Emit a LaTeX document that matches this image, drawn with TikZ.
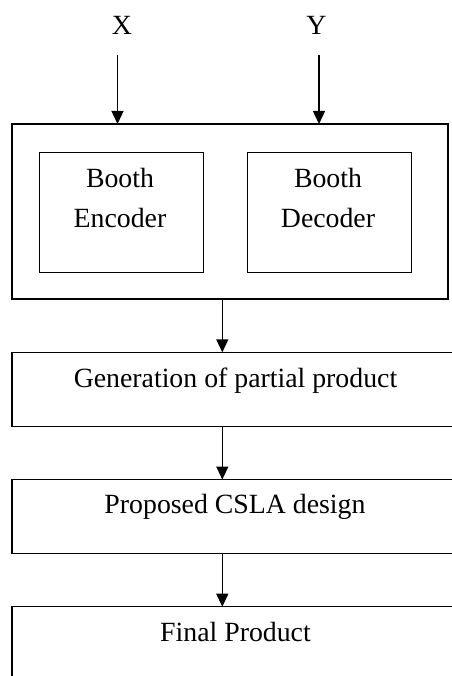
\documentclass[tikz,border=0pt]{standalone}
\usepackage{fontspec}
\setmainfont{Liberation Serif}
\usetikzlibrary{arrows.meta}
\begin{document}
\begin{tikzpicture}[x=1bp,y=-1bp,
  box/.style={draw,line width=1.4bp,inner sep=0pt,outer sep=0pt},
  lbl/.style={anchor=base,inner sep=0pt,font=\fontsize{27.8bp}{33bp}\selectfont},
  arr/.style={line width=1.4bp,-{Triangle[length=13bp,width=12bp]}}]
\useasboundingbox (0,0) rectangle (452,676);
\clip (0,0) rectangle (452,676);
% outer top box
\node[box,minimum width=436bp,minimum height=175bp] (outer) at (230,211.5) {};
\node[box,minimum width=164bp,minimum height=120.5bp] (enc) at (121.3,212.5) {};
\node[box,minimum width=164bp,minimum height=120.5bp] (dec) at (329.5,212.5) {};
\node[lbl] (encA) at (120,187.7) {Booth};
\node[lbl] (encB) at (120,227.7) {Encoder};
\node[lbl] (decA) at (328,187.7) {Booth};
\node[lbl] (decB) at (328,227.7) {Decoder};
% inputs
\node[lbl] (X) at (122,35) {X};
\node[lbl] (Y) at (316.5,35) {Y};
\coordinate (xs) at (117.5,55);
\coordinate (ys) at (319,55);
\coordinate (xe) at (117.5,124);
\coordinate (ye) at (319,124);
\draw[arr] (xs) -- (xe);
\draw[arr] (ys) -- (ye);
% lower boxes
\node[box,minimum width=446bp,minimum height=74bp] (gen) at (235,389.3) {};
\node[box,minimum width=446bp,minimum height=74bp] (csla) at (235,516.5) {};
\node[box,minimum width=446bp,minimum height=120bp] (fin) at (235,666.7) {};
\node[lbl] (genT) at (235.5,387) {Generation of partial product};
\node[lbl] (cslaT) at (235,513) {Proposed CSLA design};
\node[lbl] (finT) at (235.5,641.7) {Final Product};
% connectors
\draw[arr] (outer.south -| 222.3,0) -- (gen.north -| 222.3,0);
\draw[arr] (gen.south -| 222.3,0) -- (csla.north -| 222.3,0);
\draw[arr] (csla.south -| 222.3,0) -- (fin.north -| 222.3,0);
\end{tikzpicture}
\end{document}
